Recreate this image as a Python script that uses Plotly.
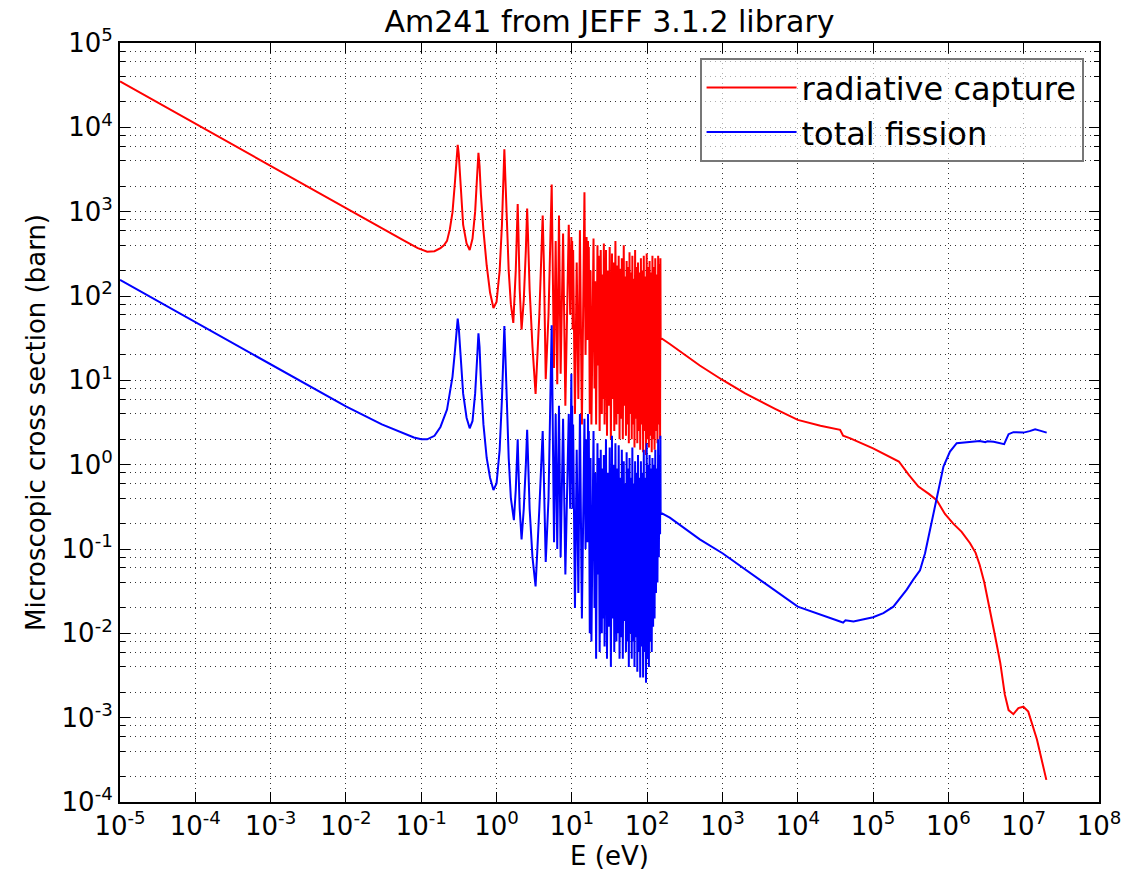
import plotly.graph_objects as go

# ---------------- data ----------------
E_capture = [
    1e-5, 1e-4, 1e-3, 1e-2, 0.03, 0.06, 0.09, 0.12, 0.15, 0.18, 0.2, 0.22, 0.24, 0.26, 0.28, 0.295,
    0.305, 0.315, 0.33, 0.36, 0.40, 0.44, 0.48, 0.52, 0.55, 0.575, 0.595, 0.62, 0.67, 0.74, 0.82,
    0.91, 1.0, 1.1, 1.18, 1.23, 1.27, 1.31, 1.36, 1.45, 1.55,
    1.67, 1.8, 1.87, 1.91, 1.95, 2.03, 2.15, 2.3, 2.45, 2.55, 2.62, 2.75, 3.0, 3.3, 3.7, 3.95, 4.1,
    4.25, 4.5, 4.9, 5.2, 5.33,
    5.4, 5.8, 6.1, 6.4, 6.75, 7.1, 7.65, 8.2, 9.1, 9.5, 9.85, 10.0, 10.1, 10.25, 10.4, 11.0,
    11.6, 12.2, 12.8, 13.6, 14.7, 15.2, 15.7, 16.1, 16.4, 16.6, 16.8, 17.3, 17.7, 18.2, 19.4,
    20.0, 20.4, 21.0, 21.9, 22.3, 22.7, 23.4, 24.2, 25.0, 25.6, 26.2, 26.6, 27.2, 28.4, 29.3,
    30.2, 31.0, 31.8, 33.0, 34.1, 35.0, 35.7, 36.6, 37.9, 39.1, 39.9, 40.8, 41.9, 43.0, 44.0,
    45.3, 46.1, 47.5, 48.9, 50.0, 51.2, 52.3, 53.4, 54.7, 55.7, 57.1, 58.3, 59.8, 61.0, 62.4,
    63.6, 65.0, 66.3, 67.9, 69.2, 70.8, 72.3, 74.0, 75.6, 77.4, 79.0, 80.9, 82.6, 84.5, 86.3,
    88.4, 90.2, 92.4, 94.3, 96.6, 98.6, 101, 103, 105.5, 107.7, 110, 112.5, 115, 117.5, 120,
    122.7, 125.5, 128.2, 131, 134, 137, 140, 143, 146, 148.5, 150,
    151, 200, 300, 500, 1e3, 2e3, 5e3, 1e4, 2e4, 3.65e4, 4.0e4, 5e4, 1e5, 1.5e5, 2.2e5, 3e5,
    4e5, 5.5e5, 7e5, 9e5, 1.16e6, 1.5e6, 1.94e6, 2.3e6, 2.6e6, 3.0e6, 3.5e6, 4.2e6, 4.9e6,
    5.6e6, 6.3e6, 7.3e6, 8.5e6, 9.9e6, 1.15e7, 1.5e7, 2.0e7,
]
sigma_capture = [
    35000, 11000, 3500, 1100, 640, 450, 370, 335, 340, 370, 400, 450, 620, 980, 2200, 4800,
    6200, 4800, 2200, 700, 420, 350, 480, 1000, 2500, 5000, 3500, 1600, 600, 230, 110,
    72, 85, 200, 700, 2500, 5500, 2500, 800, 200, 80,
    48, 200, 600, 1230, 600, 120, 40, 90, 350, 1090, 500, 120, 25, 6.9, 60, 400, 900,
    250, 10.3, 60, 400, 1200,
    2100, 14, 450, 9, 900, 12, 550, 5, 700, 60, 500, 90, 450, 40, 350, 4,
    250, 6, 600, 3, 1700, 20, 500, 30, 450, 60, 380, 4, 200, 3, 480,
    8, 150, 3, 400, 15, 300, 2.5, 350, 4, 180, 6, 420, 3, 350, 2.2,
    200, 5, 380, 2, 320, 6, 250, 2.5, 450, 3, 230, 4, 300, 2, 210,
    3.5, 280, 2, 400, 5, 170, 2.2, 260, 3, 220, 1.8, 330, 4, 190, 2,
    300, 3, 160, 1.6, 350, 3.5, 220, 1.8, 250, 2.5, 190, 1.5, 280, 3, 200,
    1.4, 300, 2.5, 170, 1.3, 320, 2, 220, 1.6, 260, 2.2, 190, 1.4, 300, 2,
    220, 1.5, 280, 2.5, 180, 1.8, 300, 3, 240, 2, 280,
    32, 27, 21, 15, 10.1, 7, 4.6, 3.4, 2.9, 2.59, 2.2, 2.05, 1.56, 1.3, 1.09, 0.75,
    0.55, 0.45, 0.38, 0.26, 0.2, 0.16, 0.117, 0.09, 0.065, 0.04, 0.021, 0.009, 0.0044,
    0.0019, 0.00123, 0.0011, 0.0013, 0.00135, 0.00118, 0.00055, 0.000183,
]

E_fission = [
    1e-5, 1e-4, 1e-3, 1e-2, 0.03, 0.06, 0.08, 0.1, 0.12, 0.15, 0.18, 0.22, 0.26, 0.28, 0.295,
    0.305, 0.315, 0.33, 0.36, 0.40, 0.44, 0.48, 0.52, 0.55, 0.575, 0.595, 0.62, 0.67, 0.74, 0.82,
    0.91, 1.0, 1.1, 1.18, 1.23, 1.27, 1.31, 1.36, 1.45, 1.55,
    1.7, 1.8, 1.87, 1.91, 1.95, 2.03, 2.15, 2.3, 2.45, 2.55, 2.62, 2.75, 3.0, 3.3, 3.7, 3.95, 4.1,
    4.25, 4.5, 4.9, 5.2, 5.33,
    5.4, 5.8, 6.1, 6.4, 6.75, 7.1, 7.65, 8.2, 9.1, 9.5, 9.85, 10.0, 10.1, 10.25, 10.4, 11.0,
    11.6, 12.2, 12.8, 13.6, 14.7, 15.2, 15.7, 16.1, 16.4, 16.6, 16.8, 17.3, 17.7, 18.2, 19.4,
    20.0, 20.4, 21.0, 21.9, 22.3, 22.7, 23.4, 24.2, 25.0, 25.6, 26.2, 26.6, 27.2, 28.4, 29.3,
    30.2, 31.0, 31.8, 33.0, 34.1, 35.0, 35.7, 36.6, 37.9, 39.1, 39.9, 40.8, 41.9, 43.0, 44.0,
    45.3, 46.1, 47.5, 48.9, 50.0, 51.2, 52.3, 53.4, 54.7, 55.7, 57.1, 58.3, 59.8, 61.0, 62.4,
    63.6, 65.0, 66.3, 67.9, 69.2, 70.8, 72.3, 74.0, 75.6, 77.4, 79.0, 80.9, 82.6, 84.5, 86.3,
    88.4, 90.2, 92.4, 94.3, 96.6, 98.6, 101, 103, 105.5, 107.7, 110, 112.5, 115, 117.5, 120,
    122.7, 125.5, 128.2, 131, 134, 137, 140, 143, 146, 148.5, 150,
    151, 200, 500, 1e3, 1e4, 3.65e4, 4.0e4, 4.3e4, 5.5e4, 1e5, 1.37e5, 1.86e5, 2.8e5, 3.4e5,
    4.2e5, 4.9e5, 5.7e5, 7e5, 8.6e5, 1.05e6, 1.29e6, 2.6e6, 3.1e6, 3.3e6, 4e6, 5.5e6, 6.3e6,
    7.3e6, 9.9e6, 1.2e7, 1.42e7, 1.6e7, 2.02e7,
]
sigma_fission = [
    155, 49, 15.5, 4.9, 3.0, 2.3, 2.1, 2.0, 2.0, 2.2, 2.8, 4.5, 11, 22, 42,
    54, 42, 20, 7, 3.6, 2.7, 3.3, 7, 17, 36, 25, 10, 3, 1.2, 0.7,
    0.5, 0.6, 1.5, 6, 22, 44, 20, 6, 1.2, 0.4,
    0.22, 0.5, 1.1, 2.0, 1.0, 0.3, 0.13, 0.3, 1.0, 2.6, 1.2, 0.3, 0.08, 0.036, 0.3, 1.5, 2.5,
    0.7, 0.07, 0.4, 5, 20,
    45, 0.12, 4, 0.1, 5, 0.08, 3.5, 0.05, 4, 0.3, 12, 0.6, 5, 0.3, 3, 0.02,
    1.5, 0.03, 4, 0.015, 3.5, 0.1, 2, 0.12, 4, 0.2, 2.5, 0.01, 1.2, 0.008, 2.5,
    0.02, 0.8, 0.005, 1.8, 0.05, 1.2, 0.006, 1.5, 0.01, 0.9, 0.015, 1.3, 0.007, 2.0, 0.005,
    0.8, 0.012, 1.6, 0.004, 2.2, 0.015, 1.0, 0.006, 1.8, 0.008, 0.9, 0.01, 1.7, 0.005, 0.7,
    0.009, 1.5, 0.005, 1.1, 0.014, 0.6, 0.006, 1.4, 0.008, 0.9, 0.004, 1.2, 0.01, 0.7, 0.005,
    1.6, 0.008, 0.6, 0.004, 1.1, 0.009, 0.8, 0.0035, 1.3, 0.006, 0.7, 0.003, 1.1, 0.007, 0.8,
    0.003, 1.5, 0.006, 0.7, 0.0026, 1.8, 0.005, 1.0, 0.004, 1.3, 0.008, 0.9, 0.006, 1.2, 0.012,
    1.0, 0.015, 1.5, 0.03, 0.9, 0.04, 2.0, 0.08, 1.3, 0.15, 2.2,
    0.27, 0.235, 0.13, 0.089, 0.0207, 0.0138, 0.0134, 0.0143, 0.0138, 0.0155, 0.0174, 0.0207, 0.033, 0.043,
    0.056, 0.089, 0.168, 0.38, 0.95, 1.43, 1.8, 1.91, 1.85, 1.9, 1.87, 1.75, 2.3,
    2.43, 2.4, 2.5, 2.63, 2.55, 2.4,
]

x_tick_exp = list(range(-5, 9))
y_tick_exp = list(range(-4, 6))
y_minor_mult = [2, 4, 6, 8]

series_names = ["radiative capture", "total fission"]
series_colors = ["#ff0000", "#0000ff"]

# ---------------- figure ----------------
FONT = "DejaVu Sans"
fig = go.Figure()
fig.add_trace(go.Scatter(x=E_capture, y=sigma_capture, mode="lines", name=series_names[0],
                         legendgroup="a", line=dict(color=series_colors[0], width=2)))
fig.add_trace(go.Scatter(x=E_fission, y=sigma_fission, mode="lines", name=series_names[1],
                         legendgroup="b", line=dict(color=series_colors[1], width=2)))

x_tickvals = [10.0 ** e for e in x_tick_exp]
x_ticktext = ["10<sup>%d</sup>" % e for e in x_tick_exp]
y_tickvals = [10.0 ** e for e in y_tick_exp]
y_ticktext = ["10<sup>%d</sup>" % e for e in y_tick_exp]
y_minor_vals = [m * 10.0 ** e for e in y_tick_exp[:-1] for m in y_minor_mult]

grid_style = dict(gridcolor="rgba(0,0,0,0.8)", gridwidth=1, griddash="1px,4px")

fig.update_xaxes(
    type="log", range=[-5, 8], tickmode="array", tickvals=x_tickvals, ticktext=x_ticktext,
    ticks="inside", ticklen=10, tickwidth=1, tickcolor="black",
    showline=True, linecolor="black", linewidth=2, mirror="allticks",
    showgrid=True, zeroline=False, **grid_style,
    tickfont=dict(family=FONT, size=26, color="black"),
    title=dict(text="E (eV)", font=dict(family=FONT, size=26, color="black"), standoff=6),
)
fig.update_yaxes(
    type="log", range=[-4, 5], tickmode="array", tickvals=y_tickvals, ticktext=y_ticktext,
    ticks="inside", ticklen=10, tickwidth=1, tickcolor="black",
    showline=True, linecolor="black", linewidth=2, mirror="allticks",
    showgrid=True, zeroline=False, **grid_style,
    minor=dict(tickmode="array", tickvals=y_minor_vals, ticks="inside", ticklen=5,
               tickcolor="black", showgrid=True, **grid_style),
    tickfont=dict(family=FONT, size=26, color="black"),
    title=dict(text="Microscopic cross section (barn)", font=dict(family=FONT, size=26, color="black"),
               standoff=8),
)

fig.update_layout(
    width=1146, height=876,
    margin=dict(l=120, r=47, t=43, b=74),
    paper_bgcolor="white", plot_bgcolor="white",
    font=dict(family=FONT, color="black"),
    title=dict(text="Am241 from JEFF 3.1.2 library", x=0.5, xref="paper", xanchor="center",
               y=0.975, yref="container", yanchor="middle",
               font=dict(family=FONT, size=30, color="black")),
    legend=dict(x=0.592, y=0.98, xanchor="left", yanchor="top",
                bgcolor="rgba(255,255,255,0.6)", bordercolor="#777777", borderwidth=2,
                font=dict(family=FONT, size=32, color="black"), itemwidth=90,
                tracegroupgap=0),
    showlegend=True,
)

fig.write_html("out.html")
